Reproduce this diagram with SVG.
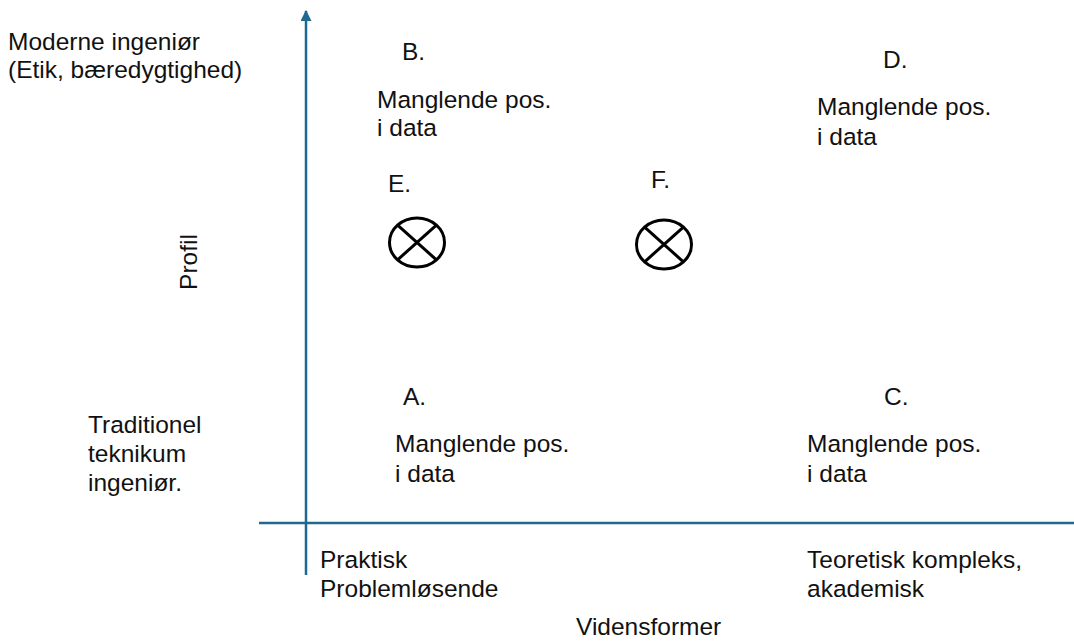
<svg xmlns="http://www.w3.org/2000/svg" width="1074" height="642" viewBox="0 0 1074 642">
<style>
text{font-family:"Liberation Sans",Arial,sans-serif;font-size:24.5px;fill:#111}
.ax{stroke:#1F6A8F;stroke-width:2.5;fill:none}
.sym{stroke:#000;stroke-width:3;fill:none}
</style>
<defs>
<marker id="ah" viewBox="0 0 10 10" refX="9" refY="5" markerWidth="4.4" markerHeight="4.4" orient="auto" markerUnits="strokeWidth">
<path d="M0,0 L10,5 L0,10 z" fill="#1F6A8F"/>
</marker>
</defs>
<rect width="1074" height="642" fill="#fff"/>
<g id="connectors">
<line class="ax" x1="306" y1="575" x2="306" y2="11" marker-end="url(#ah)"/>
<line class="ax" x1="259" y1="523" x2="1074" y2="523"/>
</g>
<g id="labels-y">
<text x="8" y="50">Moderne ingeniør<tspan x="8" dy="28">(Etik, bæredygtighed)</tspan></text>
<text x="88" y="433">Traditionel<tspan x="88" dy="29">teknikum</tspan><tspan x="88" dy="29">ingeniør.</tspan></text>
<text transform="translate(197,262) rotate(-90)" text-anchor="middle">Profil</text>
</g>
<g id="labels-x">
<text x="320" y="568">Praktisk<tspan x="320" dy="29">Problemløsende</tspan></text>
<text x="807" y="568">Teoretisk kompleks,<tspan x="807" dy="29">akademisk</tspan></text>
<text x="576" y="635">Vidensformer</text>
</g>
<g id="nodeB">
<text x="402" y="60">B.</text>
<text x="377" y="108">Manglende pos.<tspan x="377" dy="28">i data</tspan></text>
</g>
<g id="nodeD">
<text x="883" y="68">D.</text>
<text x="817" y="115">Manglende pos.<tspan x="817" dy="30">i data</tspan></text>
</g>
<g id="nodeE">
<text x="388" y="192">E.</text>
<ellipse class="sym" cx="417" cy="242.5" rx="27.5" ry="24.5"/>
<line class="sym" x1="397.6" y1="225.2" x2="436.4" y2="259.8"/>
<line class="sym" x1="397.6" y1="259.8" x2="436.4" y2="225.2"/>
</g>
<g id="nodeF">
<text x="651" y="188">F.</text>
<ellipse class="sym" cx="664" cy="244.5" rx="27.5" ry="24.5"/>
<line class="sym" x1="644.6" y1="227.2" x2="683.4" y2="261.8"/>
<line class="sym" x1="644.6" y1="261.8" x2="683.4" y2="227.2"/>
</g>
<g id="nodeA">
<text x="403" y="405">A.</text>
<text x="395" y="452">Manglende pos.<tspan x="395" dy="30">i data</tspan></text>
</g>
<g id="nodeC">
<text x="884" y="405">C.</text>
<text x="807" y="452">Manglende pos.<tspan x="807" dy="30">i data</tspan></text>
</g>
</svg>
